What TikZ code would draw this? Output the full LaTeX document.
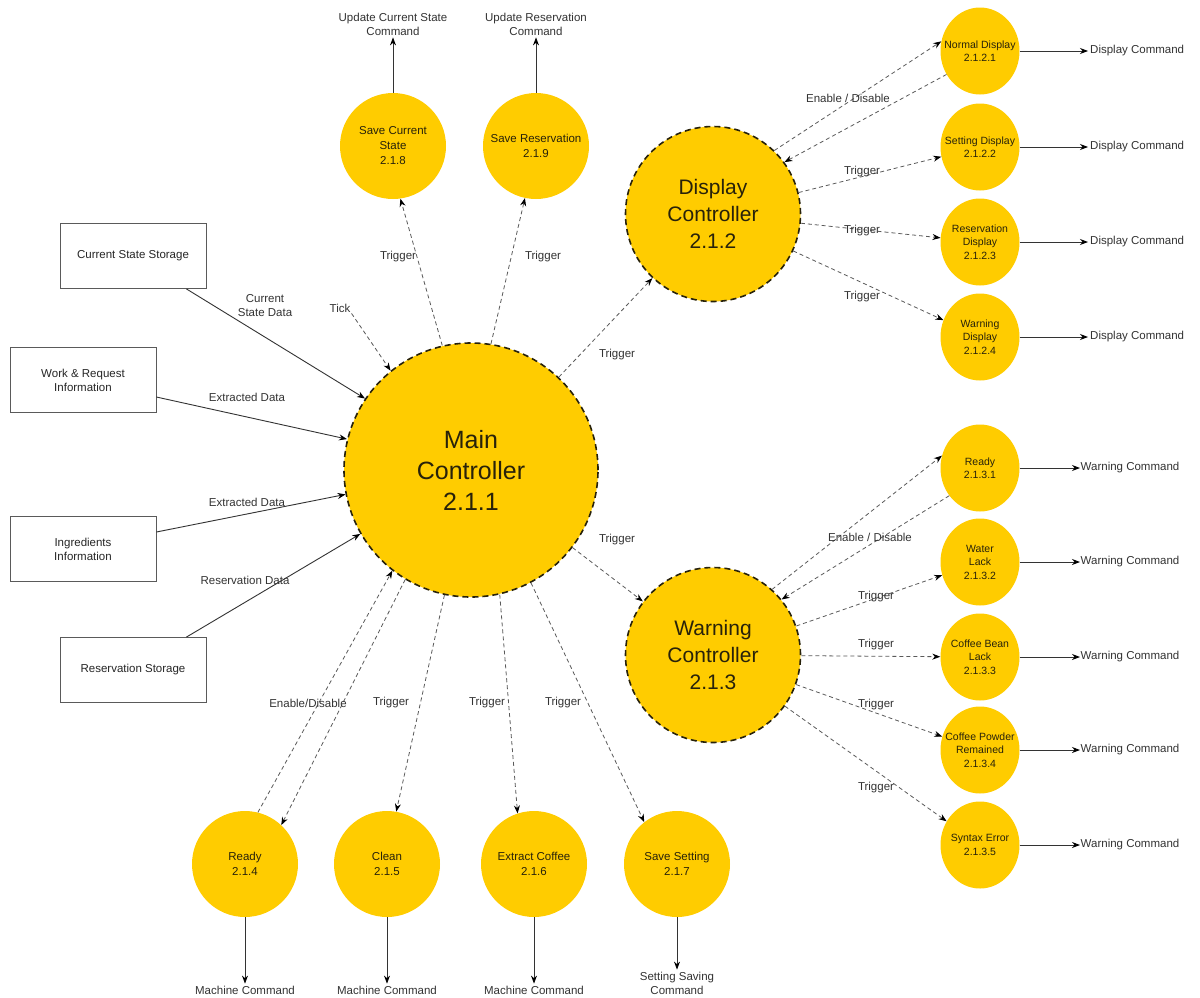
\documentclass[tikz,border=0pt]{standalone}
\usepackage{fontspec}
\setmainfont{Liberation Sans}
\usetikzlibrary{arrows.meta,shapes.geometric,calc}

\definecolor{gold}{RGB}{255,204,0}
\definecolor{ink}{RGB}{40,34,10}
\definecolor{wire}{RGB}{90,90,90}

\newcommand\lblfont{\fontsize{11.5}{14}\selectfont}
\newcommand\procfont{\fontsize{11.5}{15}\selectfont}
\newcommand\leaffont{\fontsize{10.5}{13.5}\selectfont}
\newcommand\bigfont{\fontsize{25}{31}\selectfont}
\newcommand\midfont{\fontsize{21}{27}\selectfont}

\begin{document}
\begin{tikzpicture}[x=1pt,y=-1pt,
  ctrl/.style={circle, fill=gold, draw=ink, line width=1.6pt,
    dash pattern=on 6pt off 4pt, minimum size=#1, inner sep=0pt,
    align=center, text=ink},
  proc/.style={circle, fill=gold, minimum size=106pt, inner sep=0pt,
    align=center, text=ink, font=\procfont},
  leaf/.style={ellipse, fill=gold, minimum width=79pt, minimum height=87pt,
    inner xsep=-9pt, inner ysep=0pt, align=center, text=ink, font=\leaffont},
  store/.style={rectangle, draw=wire, line width=0.8pt, fill=white,
    minimum width=146pt, minimum height=65pt, align=center,
    text=black!85, font=\lblfont},
  lbl/.style={font=\lblfont, text=black!80, align=center, inner sep=1pt},
  outlbl/.style={font=\lblfont, text=black!80, align=center, inner sep=2pt},
  flow/.style={draw=black!80, line width=0.9pt,
    -{Stealth[length=8pt,width=6pt,color=black]}},
  sig/.style={draw=wire, line width=0.8pt, dash pattern=on 4pt off 3pt,
    -{Stealth[length=8pt,width=6pt,color=black]}}
]
\useasboundingbox (0,0) rectangle (1200,997);
\fill[white] (0,0) rectangle (1200,997);

% controllers
\node[ctrl=254, font=\bigfont] (main) at (471,470) {Main\\Controller\\2.1.1};
\node[ctrl=175, font=\midfont] (dc) at (713,214) {Display\\Controller\\2.1.2};
\node[ctrl=175, font=\midfont] (wc) at (713,655) {Warning\\Controller\\2.1.3};

% processes of the main controller
\node[proc] (sv8) at (393,146) {Save Current\\State\\2.1.8};
\node[proc] (sv9) at (536,146) {Save Reservation\\2.1.9};
\node[proc] (b4) at (245,864) {Ready\\2.1.4};
\node[proc] (b5) at (387,864) {Clean\\2.1.5};
\node[proc] (b6) at (534,864) {Extract Coffee\\2.1.6};
\node[proc] (b7) at (677,864) {Save Setting\\2.1.7};

% display processes
\node[leaf] (nd) at (980,51)  {Normal Display\\2.1.2.1};
\node[leaf] (sd) at (980,147) {Setting Display\\2.1.2.2};
\node[leaf] (rd) at (980,242) {Reservation\\Display\\2.1.2.3};
\node[leaf] (wd) at (980,337) {Warning\\Display\\2.1.2.4};

% warning processes
\node[leaf] (r1) at (980,468) {Ready\\2.1.3.1};
\node[leaf] (r2) at (980,562) {Water\\Lack\\2.1.3.2};
\node[leaf] (r3) at (980,657) {Coffee Bean\\Lack\\2.1.3.3};
\node[leaf] (r4) at (980,750) {Coffee Powder\\Remained\\2.1.3.4};
\node[leaf] (r5) at (980,845) {Syntax Error\\2.1.3.5};

% data stores
\node[store] (css) at (133,256) {Current State Storage};
\node[store] (wri) at (83,380)  {Work \& Request\\Information};
\node[store] (ing) at (83,549)  {Ingredients\\Information};
\node[store] (rst) at (133,670) {Reservation Storage};

% outputs
\node[outlbl] (o8) at (393,24) {Update Current State\\Command};
\node[outlbl] (o9) at (536,24) {Update Reservation\\Command};
\node[outlbl] (o4) at (245,990) {Machine Command};
\node[outlbl] (o5) at (387,990) {Machine Command};
\node[outlbl] (o6) at (534,990) {Machine Command};
\node[outlbl] (o7) at (677,983) {Setting Saving\\Command};

\foreach \n/\y in {1/51,2/147,3/242,4/337}
  \node[outlbl, anchor=west] (dcmd\n) at (1088,\y) {Display Command};
\foreach \n/\y in {1/468,2/562,3/657,4/750,5/845}
  \node[outlbl, anchor=west, inner sep=0.5pt] (wcmd\n) at (1080,\y) {Warning Command};

% store flows
\draw[flow] ([xshift=-20pt]css.south east) -- (main.146);
\draw[flow] ([yshift=-17pt]wri.east) -- (main.166);
\draw[flow] ([yshift=17pt]ing.east) -- (main.191);
\draw[flow] ([xshift=-20pt]rst.north east) -- (main.210);

\node[lbl] at (265,306) {Current\\State Data};
\node[lbl] at (247,397) {Extracted Data};
\node[lbl] at (247,502) {Extracted Data};
\node[lbl] at (245,580) {Reservation Data};

% tick
\node[lbl] (tick) at (340,308) {Tick};
\draw[sig] (tick.south east) -- (main.129);

% main controller triggers
\draw[sig] (main.103) -- (sv8.278);
\draw[sig] (main.81) -- (sv9.258);
\node[lbl] at (398,257) {Trigger};
\node[lbl] at (543,257) {Trigger};

\draw[sig] (main) -- (dc);
\node[lbl] at (617,355) {Trigger};
\draw[sig] (main) -- (wc);
\node[lbl] at (617,540) {Trigger};

\draw[sig] (b4.76) -- (main.232);
\draw[sig] (main.239) -- (b4.47);
\draw[sig] (main.258) -- (b5.80);
\draw[sig] (main.283) -- (b6.108);
\draw[sig] (main.298) -- (b7.128);
\node[lbl] at (308,703) {Enable/Disable};
\node[lbl] at (391,703) {Trigger};
\node[lbl] at (487,703) {Trigger};
\node[lbl] at (563,703) {Trigger};

% display controller
\draw[sig] (dc.46) -- (nd.166);
\draw[sig] (nd.215) -- (dc.36);
\draw[sig] (dc) -- (sd);
\draw[sig] (dc) -- (rd);
\draw[sig] (dc) -- (wd);
\node[lbl] at (848,98)  {Enable / Disable};
\node[lbl] at (862,172) {Trigger};
\node[lbl] at (862,231) {Trigger};
\node[lbl] at (862,297) {Trigger};

% warning controller
\draw[sig] (wc.48) -- (r1.162);
\draw[sig] (r1.222) -- (wc.39);
\draw[sig] (wc) -- (r2);
\draw[sig] (wc) -- (r3);
\draw[sig] (wc) -- (r4);
\draw[sig] (wc) -- (r5);
\node[lbl] at (870,537) {Enable / Disable};
\node[lbl] at (876,597) {Trigger};
\node[lbl] at (876,645) {Trigger};
\node[lbl] at (876,705) {Trigger};
\node[lbl] at (876,788) {Trigger};

% outputs of the processes
\draw[flow] (sv8) -- (o8);
\draw[flow] (sv9) -- (o9);
\draw[flow] (b4) -- (o4);
\draw[flow] (b5) -- (o5);
\draw[flow] (b6) -- (o6);
\draw[flow] (b7) -- (o7);
\draw[flow] (nd) -- (dcmd1);
\draw[flow] (sd) -- (dcmd2);
\draw[flow] (rd) -- (dcmd3);
\draw[flow] (wd) -- (dcmd4);
\draw[flow] (r1) -- (wcmd1);
\draw[flow] (r2) -- (wcmd2);
\draw[flow] (r3) -- (wcmd3);
\draw[flow] (r4) -- (wcmd4);
\draw[flow] (r5) -- (wcmd5);
\end{tikzpicture}
\end{document}
